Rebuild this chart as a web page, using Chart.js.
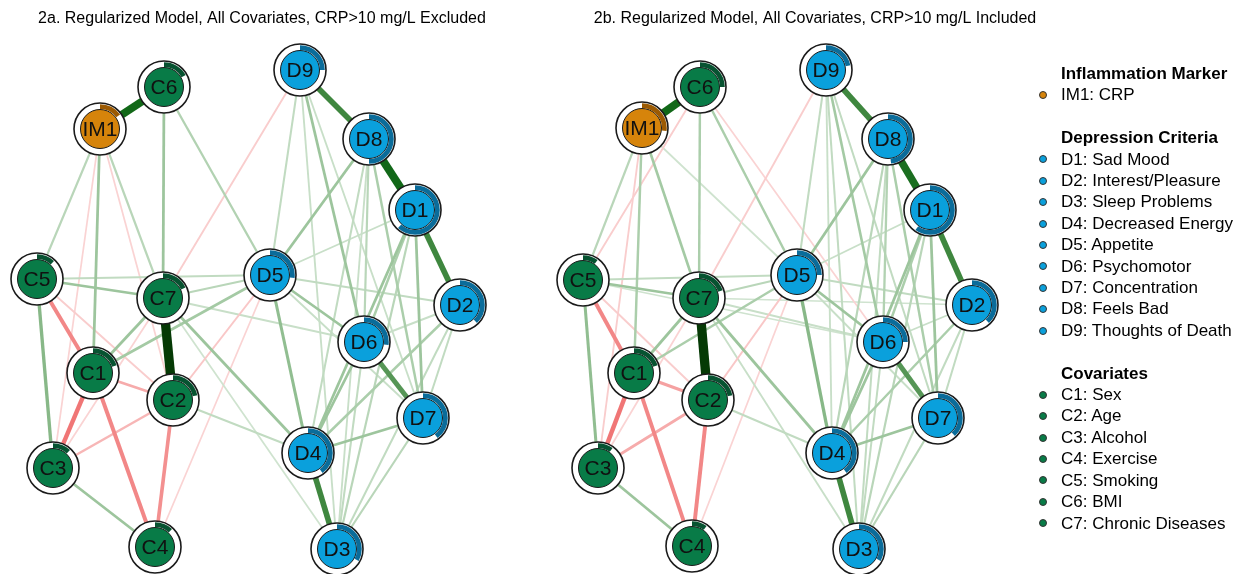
<!DOCTYPE html>
<html>
<head>
<meta charset="utf-8">
<script src="https://cdn.jsdelivr.net/npm/chart.js@4"></script>
<style>
  body { margin: 0; background: #fff; width: 1236px; height: 574px; overflow: hidden; position: relative; }
  canvas { position: absolute; top: 0; }
  #panelA { left: 0; }
  #panelB { left: 550px; }
  #legend { position: absolute; left: 1036px; top: 63px; font-family: "Liberation Sans", Arial, sans-serif; font-size: 17px; line-height: 21.4px; color: #000; z-index: 2; }
  #legend .hd { font-weight: bold; padding-left: 25px; }
  #legend .it { position: relative; padding-left: 25px; }
  #legend .it i { position: absolute; left: 3px; top: 6.7px; width: 6px; height: 6px; border-radius: 50%; border: 1.5px solid #333; }
  #legend .gap { height: 21.4px; }
</style>
</head>
<body>
<canvas id="panelA" width="524" height="574"></canvas>
<canvas id="panelB" width="530" height="574"></canvas>
<div id="legend"></div>
<script>
// nodes, same order for both panels
var nodeNames = ['IM1', 'D1', 'D2', 'D3', 'D4', 'D5', 'D6', 'D7', 'D8', 'D9',
                 'C1', 'C2', 'C3', 'C4', 'C5', 'C6', 'C7'];

// layout coordinates (spring layout)
var layoutXA = [100, 415, 460, 337, 308, 270, 364, 423, 369, 300, 93, 173, 53, 155, 37, 164, 163];
var layoutYA = [129, 210, 305, 549, 453, 275, 342, 418, 139, 70, 373, 400, 468, 547, 279, 87, 298];
var layoutXB = [92, 380, 422, 309, 282, 247, 333, 388, 338, 276, 84, 158, 48, 142, 33, 150, 149];
var layoutYB = [128, 210, 305, 549, 453, 275, 342, 418, 139, 70, 373, 400, 468, 546, 280, 87, 298];

// predictability (share of explained variance, drawn as ring)
var predA = [0.15, 0.62, 0.38, 0.33, 0.40, 0.27, 0.27, 0.40, 0.50, 0.25, 0.20, 0.22, 0.12, 0.12, 0.12, 0.17, 0.18];
var predB = [0.27, 0.60, 0.38, 0.33, 0.40, 0.25, 0.25, 0.38, 0.48, 0.22, 0.20, 0.22, 0.10, 0.10, 0.10, 0.25, 0.20];

// edges: [from, to, partial correlation]
var edgesA = [
  ['C7', 'C2', 0.55], ['IM1', 'C6', 0.45], ['D8', 'D1', 0.45], ['D9', 'D8', 0.30],
  ['D1', 'D2', 0.30], ['D4', 'D3', 0.30], ['D6', 'D7', 0.25],
  ['C1', 'C3', -0.22], ['C5', 'C1', -0.18], ['C1', 'C4', -0.18], ['C2', 'C4', -0.16],
  ['C1', 'C2', -0.10], ['C3', 'C2', -0.08],
  ['C5', 'C3', 0.14], ['C3', 'C4', 0.10], ['C5', 'C7', 0.10], ['C7', 'C1', 0.10],
  ['C6', 'C7', 0.10], ['IM1', 'C1', 0.10], ['IM1', 'C5', 0.06], ['IM1', 'C7', 0.06],
  ['C6', 'D5', 0.07], ['C1', 'D5', 0.09], ['C7', 'D5', 0.06], ['C5', 'D5', 0.05],
  ['C7', 'D4', 0.10], ['C2', 'D4', 0.05], ['C7', 'D6', 0.04], ['C7', 'D3', 0.03],
  ['C5', 'C2', -0.04], ['IM1', 'C2', -0.03], ['IM1', 'C3', -0.03], ['C7', 'C3', -0.03],
  ['D9', 'C7', -0.04], ['D5', 'C2', -0.05], ['D5', 'C4', -0.03],
  ['D9', 'D5', 0.05], ['D9', 'D6', 0.10], ['D9', 'D3', 0.04], ['D9', 'D7', 0.04],
  ['D8', 'D5', 0.10], ['D8', 'D6', 0.06], ['D8', 'D7', 0.08], ['D8', 'D3', 0.04], ['D8', 'D4', 0.05],
  ['D1', 'D5', 0.04], ['D1', 'D4', 0.10], ['D1', 'D6', 0.08], ['D1', 'D7', 0.10], ['D1', 'D3', 0.06],
  ['D5', 'D4', 0.12], ['D5', 'D6', 0.10], ['D5', 'D2', 0.05], ['D5', 'D7', 0.04],
  ['D4', 'D7', 0.10], ['D4', 'D2', 0.08], ['D4', 'D6', 0.10],
  ['D3', 'D6', 0.05], ['D3', 'D7', 0.06], ['D3', 'D2', 0.05], ['D7', 'D2', 0.05], ['D6', 'D2', 0.04]
];
var edgesB = [
  ['C7', 'C2', 0.55], ['IM1', 'C6', 0.45], ['D8', 'D1', 0.42], ['D9', 'D8', 0.30],
  ['D1', 'D2', 0.30], ['D4', 'D3', 0.30], ['D6', 'D7', 0.25],
  ['C1', 'C3', -0.22], ['C5', 'C1', -0.18], ['C1', 'C4', -0.18], ['C2', 'C4', -0.18],
  ['C1', 'C2', -0.12], ['C3', 'C2', -0.10],
  ['C5', 'C3', 0.12], ['C3', 'C4', 0.10], ['C5', 'C7', 0.10], ['C7', 'C1', 0.10],
  ['C6', 'C7', 0.08], ['IM1', 'C1', 0.08], ['IM1', 'C7', 0.09], ['IM1', 'C5', 0.06],
  ['C6', 'C5', -0.04], ['IM1', 'C3', -0.04], ['C6', 'D6', -0.03], ['IM1', 'D5', 0.03],
  ['C6', 'D5', 0.08], ['C1', 'D5', 0.08], ['C7', 'D5', 0.06], ['C5', 'D5', 0.05],
  ['C7', 'D4', 0.10], ['C2', 'D4', 0.05], ['C7', 'D6', 0.04], ['C7', 'D2', 0.03], ['C5', 'D6', 0.03],
  ['C7', 'D3', 0.04], ['C5', 'C2', -0.04], ['C7', 'C3', -0.03], ['D9', 'C7', -0.04],
  ['D5', 'C2', -0.05], ['D5', 'C4', -0.03],
  ['D9', 'D5', 0.05], ['D9', 'D6', 0.09], ['D9', 'D3', 0.05], ['D9', 'D7', 0.05], ['D9', 'D4', 0.04],
  ['D8', 'D5', 0.10], ['D8', 'D6', 0.07], ['D8', 'D7', 0.08], ['D8', 'D3', 0.05], ['D8', 'D4', 0.06],
  ['D1', 'D5', 0.04], ['D1', 'D4', 0.10], ['D1', 'D6', 0.08], ['D1', 'D7', 0.10], ['D1', 'D3', 0.06],
  ['D5', 'D4', 0.14], ['D5', 'D6', 0.10], ['D5', 'D2', 0.05], ['D5', 'D7', 0.04],
  ['D4', 'D7', 0.10], ['D4', 'D2', 0.08], ['D4', 'D6', 0.10],
  ['D3', 'D6', 0.05], ['D3', 'D7', 0.06], ['D3', 'D2', 0.05], ['D7', 'D2', 0.05], ['D6', 'D2', 0.04]
];

var titleA = '2a. Regularized Model, All Covariates, CRP>10 mg/L Excluded';
var titleB = '2b. Regularized Model, All Covariates, CRP>10 mg/L Included';

var imLabels = ['IM1: CRP'];
var depLabels = ['D1: Sad Mood', 'D2: Interest/Pleasure', 'D3: Sleep Problems', 'D4: Decreased Energy',
                 'D5: Appetite', 'D6: Psychomotor', 'D7: Concentration', 'D8: Feels Bad', 'D9: Thoughts of Death'];
var covLabels = ['C1: Sex', 'C2: Age', 'C3: Alcohol', 'C4: Exercise', 'C5: Smoking', 'C6: BMI', 'C7: Chronic Diseases'];

var FONT = '"Liberation Sans", Arial, sans-serif';
var fillCol = { IM: '#D6840B', D: '#0AA0DC', C: '#087B47' };
var ringCol = { IM: '#9C5A02', D: '#0A6C9A', C: '#075331' };
var maxW = 0.55;

function groupOf(n) { return n.indexOf('IM') === 0 ? 'IM' : n.charAt(0); }

function mix(stops, t) {
  for (var i = 1; i < stops.length; i++) {
    if (t <= stops[i][0]) {
      var a = stops[i - 1], b = stops[i];
      var f = (t - a[0]) / (b[0] - a[0]);
      var c = [0, 1, 2].map(function (k) { return Math.round(a[1][k] + (b[1][k] - a[1][k]) * f); });
      return 'rgb(' + c.join(',') + ')';
    }
  }
  return 'rgb(' + stops[stops.length - 1][1].join(',') + ')';
}
var posStops = [[0, [228, 240, 228]], [0.2, [150, 193, 150]], [0.55, [62, 134, 62]], [0.82, [18, 104, 24]], [1, [5, 58, 5]]];
var negStops = [[0, [252, 228, 228]], [0.2, [245, 165, 165]], [0.4, [240, 118, 118]], [1, [200, 20, 20]]];

function buildDatasets(xs, ys, edges) {
  var idx = {};
  nodeNames.forEach(function (n, i) { idx[n] = i; });
  var sets = edges.map(function (e) {
    var t = Math.min(1, Math.abs(e[2]) / maxW);
    var a = idx[e[0]], b = idx[e[1]];
    return {
      type: 'scatter',
      data: [{ x: xs[a], y: ys[a] }, { x: xs[b], y: ys[b] }],
      showLine: true,
      borderColor: mix(e[2] > 0 ? posStops : negStops, t),
      borderWidth: 1.3 + t * 8,
      pointRadius: 0,
      clip: false,
      order: 10 + Math.round((1 - t) * 1000)
    };
  });
  var pts = nodeNames.map(function (n, i) { return { x: xs[i], y: ys[i] }; });
  sets.push({
    data: pts, pointRadius: 26, pointBorderWidth: 1.6, pointBorderColor: '#1b1b1b',
    pointBackgroundColor: '#fff', clip: false, order: 1
  });
  sets.push({
    data: pts, pointRadius: 19.5, pointBorderWidth: 1, pointBorderColor: '#1b1b1b',
    pointBackgroundColor: nodeNames.map(function (n) { return fillCol[groupOf(n)]; }),
    clip: false, order: 0
  });
  return sets;
}

var nodeRings = {
  id: 'nodeRings',
  afterDatasetsDraw: function (chart, args, opts) {
    var ctx = chart.ctx, sx = chart.scales.x, sy = chart.scales.y;
    ctx.save();
    nodeNames.forEach(function (n, i) {
      var px = sx.getPixelForValue(opts.xs[i]), py = sy.getPixelForValue(opts.ys[i]);
      var a0 = -Math.PI / 2, a1 = a0 + Math.PI * 2 * opts.pred[i];
      ctx.beginPath();
      ctx.arc(px, py, 24.8, a0, a1);
      ctx.arc(px, py, 20.0, a1, a0, true);
      ctx.closePath();
      ctx.fillStyle = ringCol[groupOf(n)];
      ctx.fill();
      ctx.fillStyle = '#111';
      ctx.font = '21px ' + FONT;
      ctx.textAlign = 'center';
      ctx.textBaseline = 'middle';
      ctx.fillText(n, px, py + 1);
    });
    ctx.restore();
  }
};

function makePanel(id, title, xs, ys, pred, edges, xmax) {
  return new Chart(document.getElementById(id), {
    type: 'scatter',
    data: { datasets: buildDatasets(xs, ys, edges) },
    plugins: [nodeRings],
    options: {
      responsive: false,
      animation: false,
      events: [],
      layout: { padding: 0, autoPadding: false },
      scales: {
        x: { display: false, min: 0, max: xmax },
        y: { display: false, min: 34, max: 574, reverse: true }
      },
      plugins: {
        legend: { display: false },
        tooltip: { enabled: false },
        title: {
          display: true, text: title, color: '#000',
          font: { family: FONT, size: 16, weight: 'normal' },
          padding: { top: 9, bottom: 5.8 }
        },
        nodeRings: { xs: xs, ys: ys, pred: pred }
      }
    }
  });
}

makePanel('panelA', titleA, layoutXA, layoutYA, predA, edgesA, 524);
makePanel('panelB', titleB, layoutXB, layoutYB, predB, edgesB, 530);

// legend
var groups = [['Inflammation Marker', 'IM', imLabels], ['Depression Criteria', 'D', depLabels], ['Covariates', 'C', covLabels]];
var html = '';
groups.forEach(function (g, k) {
  if (k > 0) html += '<div class="gap"></div>';
  html += '<div class="hd">' + g[0] + '</div>';
  g[2].forEach(function (s) {
    html += '<div class="it"><i style="background:' + fillCol[g[1]] + '"></i>' + s + '</div>';
  });
});
document.getElementById('legend').innerHTML = html;
</script>
</body>
</html>
